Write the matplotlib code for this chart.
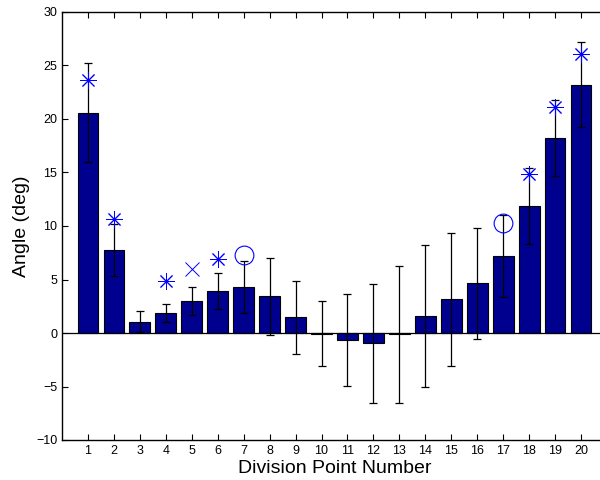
import numpy as np
import matplotlib
matplotlib.use("Agg")
import matplotlib.pyplot as plt

plt.rcParams['font.family'] = ['Liberation Sans', 'DejaVu Sans']

# Data
points = list(range(1, 21))
angle = [20.6, 7.76, 1.06, 1.87, 3.0, 3.9, 4.3, 3.43, 1.47, -0.05,
         -0.65, -0.96, -0.12, 1.56, 3.15, 4.64, 7.22, 11.87, 18.2, 23.2]
err = [4.6, 2.45, 1.0, 0.85, 1.33, 1.7, 2.4, 3.6, 3.4, 3.05,
       4.3, 5.57, 6.38, 6.62, 6.22, 5.2, 3.85, 3.57, 3.55, 3.95]

# extra markers on top of some bars
star_x = [1, 2, 4, 6, 18, 19, 20]
star_y = [23.6, 10.7, 4.86, 6.9, 14.9, 21.15, 26.1]
cross_x = [5]
cross_y = [6.0]
circ_x = [7, 17]
circ_y = [7.3, 10.25]

fig = plt.figure(figsize=(6, 4.8), dpi=100)
ax = fig.add_axes([62/600, 40/480, 545/600, 428/480])

ax.bar(points, angle, width=0.8, color='#00008F', edgecolor='black', linewidth=0.8, zorder=2)
ax.errorbar(points, angle, yerr=err, fmt='none', ecolor='black', elinewidth=0.9,
            capsize=3.2, capthick=0.9, zorder=3)
ax.axhline(0, color='black', linewidth=0.9, zorder=2.5)

ax.plot(star_x, star_y, linestyle='none', marker=(8, 2, 0), markersize=12,
        markeredgecolor='blue', markeredgewidth=0.7, zorder=4)
ax.plot(cross_x, cross_y, linestyle='none', marker='x', markersize=10,
        markeredgecolor='blue', markeredgewidth=0.7, zorder=4)
ax.plot(circ_x, circ_y, linestyle='none', marker='o', markersize=13.5,
        markerfacecolor='none', markeredgecolor='blue', markeredgewidth=0.8, zorder=4)

ax.set_xlim(0, 21)
ax.set_ylim(-10, 30)
ax.set_xticks(points)
ax.set_yticks(np.arange(-10, 31, 5))
ax.tick_params(direction='in', top=True, right=True, labelsize=9, length=4, width=0.8)
for s in ax.spines.values():
    s.set_linewidth(1.0)

ax.set_xlabel('Division Point Number', fontsize=14, labelpad=2)
ax.set_ylabel('Angle (deg)', fontsize=14, labelpad=4)

fig.savefig('out.png', dpi=100)
